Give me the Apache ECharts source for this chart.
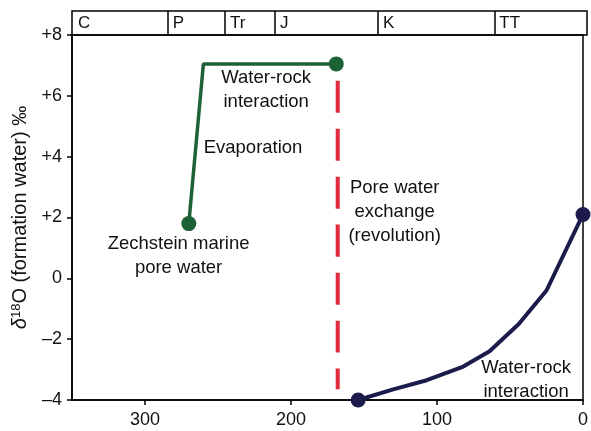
<!DOCTYPE html>
<html><head><meta charset="utf-8">
<script src="https://cdn.jsdelivr.net/npm/echarts@6/dist/echarts.min.js"></script>
<style>html,body{margin:0;padding:0;background:#fff}#c{width:591px;height:431px}</style>
</head><body><div id="c"></div>
<script>
// Data (age in Ma, δ18O in ‰)
const periodNames = ['C', 'P', 'Tr', 'J', 'K', 'TT'];
const periodStarts = [350, 285, 246, 212, 142, 63];
const zechsteinPath = [[270, 1.8], [260, 7.05], [169, 7.05]];
const zechsteinDots = [[270, 1.8], [169, 7.05]];
const exchangeLine = [[168, 6.5], [168, -3.65]];
const rockPath = [[154, -4], [130, -3.65], [107, -3.35], [82, -2.9], [64, -2.4], [44, -1.5], [25, -0.4], [0, 2.1]];
const rockDots = [[154, -4], [0, 2.1]];
const yTicks = [-4, -2, 0, 2, 4, 6, 8];
const xTicks = [0, 100, 200, 300];

const FONT = 'Liberation Sans';
const green = '#1d6236', navy = '#1b1c4c', red = '#e12a3b';
const chart = echarts.init(document.getElementById('c'));
function yFmt(v) { return v > 0 ? '+' + v : (v < 0 ? '\u2013' + Math.abs(v) : '0'); }
const textLabel = (x, y, txt) => ({
  value: [x, y],
  label: { show: true, formatter: txt, position: 'inside', align: 'center', verticalAlign: 'middle',
    fontFamily: FONT, fontSize: 18.5, color: '#111', lineHeight: 24 }
});
chart.setOption({
  animation: false,
  grid: [
    { left: 72, right: 4, top: 35, bottom: 31, show: true, borderColor: '#000', borderWidth: 1.5, backgroundColor: 'transparent' },
    { left: 72, right: 4, top: 11, height: 24, show: true, borderColor: '#000', borderWidth: 1.5, backgroundColor: 'transparent' }
  ],
  xAxis: [
    { type: 'value', gridIndex: 0, min: 0, max: 350, interval: 100, inverse: true,
      axisLine: { show: true, onZero: false, lineStyle: { color: '#000', width: 1.5 } },
      axisTick: { show: true, length: 5, lineStyle: { color: '#000', width: 1.5 } },
      axisLabel: { color: '#111', fontFamily: FONT, fontSize: 18, margin: 11, showMaxLabel: false,
        formatter: v => xTicks.includes(v) ? String(v) : '' },
      splitLine: { show: false } },
    { type: 'value', gridIndex: 1, min: 0, max: 350, inverse: true,
      axisLine: { show: false }, axisTick: { show: false }, axisLabel: { show: false }, splitLine: { show: false } }
  ],
  yAxis: [
    { type: 'value', gridIndex: 0, min: -4, max: 8, interval: 2,
      name: '{d|δ}{s|18}{n|O (formation water) ‰}', nameLocation: 'middle', nameGap: 40,
      nameTextStyle: { rich: {
        d: { fontFamily: FONT, fontSize: 20, fontStyle: 'italic', color: '#111' },
        s: { fontFamily: FONT, fontSize: 13, color: '#111', verticalAlign: 'top', padding: [0, 0, 9, 0] },
        n: { fontFamily: FONT, fontSize: 20, color: '#111' } } },
      axisLine: { show: true, onZero: false, lineStyle: { color: '#000', width: 1.5 } },
      axisTick: { show: true, length: 5, lineStyle: { color: '#000', width: 1.5 } },
      axisLabel: { color: '#111', fontFamily: FONT, fontSize: 18, margin: 10, formatter: yFmt },
      splitLine: { show: false } },
    { type: 'value', gridIndex: 1, min: 0, max: 1,
      axisLine: { show: false }, axisTick: { show: false }, axisLabel: { show: false }, splitLine: { show: false } }
  ],
  series: [
    { type: 'line', xAxisIndex: 1, yAxisIndex: 1, data: [], silent: true,
      markLine: { silent: true, symbol: 'none', label: { show: false },
        lineStyle: { color: '#000', width: 1.5, type: 'solid' },
        data: periodStarts.slice(1).map(v => ({ xAxis: v })) } },
    { type: 'scatter', xAxisIndex: 1, yAxisIndex: 1, symbolSize: 0, silent: true, itemStyle: { opacity: 1 },
      data: periodNames.map((n, i) => ({ value: [periodStarts[i], 0.5],
        label: { show: true, position: 'right', distance: i === 0 ? 6 : 5, formatter: n,
          fontFamily: FONT, fontSize: 17, color: '#111' } })) },
    { type: 'line', data: zechsteinPath, symbol: 'none', lineStyle: { color: green, width: 3.5 }, z: 3 },
    { type: 'scatter', data: zechsteinDots, symbolSize: 15, itemStyle: { color: green, opacity: 1 }, z: 4 },
    { type: 'line', data: exchangeLine, symbol: 'none', lineStyle: { color: red, width: 4, type: [32, 16] }, z: 3 },
    { type: 'line', data: rockPath, symbol: 'none', lineStyle: { color: navy, width: 4 }, z: 3 },
    { type: 'scatter', data: rockDots, symbolSize: 15, itemStyle: { color: navy, opacity: 1 }, z: 4 },
    { type: 'scatter', symbolSize: 0, silent: true, z: 5, itemStyle: { opacity: 1 },
      data: [
        textLabel(217, 6.2, 'Water-rock\ninteraction'),
        textLabel(226, 4.28, 'Evaporation'),
        textLabel(277, 0.75, 'Zechstein marine\npore water'),
        textLabel(129, 2.2, 'Pore water\nexchange\n(revolution)'),
        textLabel(39, -3.35, 'Water-rock\ninteraction')
      ] }
  ]
});
</script></body></html>
